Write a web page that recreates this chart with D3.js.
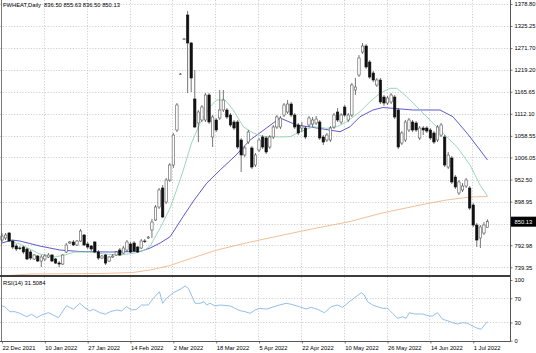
<!DOCTYPE html>
<html>
<head>
<meta charset="utf-8">
<script src="https://cdn.jsdelivr.net/npm/d3@7"></script>
<style>
  body { margin: 0; background: #fff; }
  svg { display: block; }
  text { font-family: "Liberation Sans", Arial, sans-serif; font-size: 5.8px; fill: #000; }
</style>
</head>
<body>
<script>
// symbol + last bar
const symbol = 'FWHEAT,Daily';
const lastBar = [836.50, 855.63, 836.50, 850.13];
const rsiLast = 31.5084;

// time axis labels, every 12 bars
const dateBars = [0, 12, 24, 36, 48, 60, 72, 84, 96, 108, 120, 132];
const dateLabels = ['22 Dec 2021', '10 Jan 2022', '27 Jan 2022', '14 Feb 2022', '2 Mar 2022', '18 Mar 2022',
  '5 Apr 2022', '22 Apr 2022', '10 May 2022', '26 May 2022', '14 Jun 2022', '1 Jul 2022'];

// price scale: grid levels, and the labels shown (845.40 is hidden by the price box)
const priceGrid = [1378.80, 1325.25, 1271.70, 1219.20, 1165.65, 1112.10, 1058.55, 1006.05, 952.50, 898.95, 845.40, 792.98, 739.35];
const priceLabels = [1378.80, 1325.25, 1271.70, 1219.20, 1165.65, 1112.10, 1058.55, 1006.05, 952.50, 898.95, 792.98, 739.35];
const rsiTicks = [100, 70, 30, 0];
const rsiLevels = [70, 30];

// daily OHLC
const openP = [805.6, 810.5, 822.6, 803.2, 791.0, 786.2, 788.6, 783.8, 776.5, 759.5,
  766.8, 754.6, 759.5, 764.3, 769.2, 759.5, 749.7, 747.3, 776.5, 798.3,
  800.8, 793.5, 803.2, 817.8, 795.9, 791.0, 800.8, 776.5, 761.9, 769.2,
  754.6, 764.3, 769.2, 781.3, 774.0, 781.3, 795.9, 798.3, 788.6, 786.2,
  803.2, 810.5, 829.9, 854.2, 885.8, 931.9, 897.9, 951.3, 987.8, 1072.8,
  1208.8, 1293.8, 1352.1, 1284.1, 1148.1, 1089.8, 1097.1, 1097.1, 1157.8, 1055.8,
  1097.1, 1101.9, 1121.4, 1121.4, 1109.2, 1092.2, 1092.2, 1048.5, 1012.1, 1043.6,
  1029.1, 987.8, 1024.2, 1055.8, 1053.4, 1031.5, 1055.8, 1080.1, 1080.1, 1109.2,
  1116.5, 1135.9, 1109.2, 1084.9, 1077.6, 1077.6, 1084.9, 1087.3, 1089.8, 1092.2,
  1055.8, 1048.5, 1048.5, 1080.1, 1116.5, 1092.2, 1128.6, 1097.1, 1109.2, 1169.9,
  1206.3, 1262.2, 1276.8, 1237.9, 1211.2, 1182.1, 1194.2, 1152.9, 1138.3, 1140.8,
  1152.9, 1121.4, 1041.2, 1048.5, 1072.8, 1092.2, 1089.8, 1053.4, 1077.6, 1077.6,
  1072.8, 1065.5, 1048.5, 1060.6, 1055.8, 982.9, 1004.8, 958.6, 919.8, 927.1,
  936.8, 931.9, 890.6, 842.0, 810.5, 822.6, 836.5];
const highP = [822.6, 822.6, 825.0, 805.6, 795.9, 791.0, 791.0, 786.2, 781.3, 771.6,
  769.2, 769.2, 771.6, 774.0, 771.6, 761.9, 754.6, 771.6, 798.3, 803.2,
  805.6, 805.6, 832.3, 820.2, 800.8, 793.5, 803.2, 781.3, 769.2, 771.6,
  766.8, 771.6, 778.9, 786.2, 791.0, 805.6, 800.8, 803.2, 791.0, 808.1,
  808.1, 815.3, 856.6, 890.6, 931.9, 939.2, 956.2, 992.6, 1065.5, 1138.3,
  1211.2, 1296.2, 1361.8, 1286.5, 1218.5, 1121.4, 1133.5, 1162.6, 1162.6, 1109.2,
  1101.9, 1169.9, 1169.9, 1126.2, 1114.1, 1097.1, 1097.1, 1053.4, 1033.9, 1072.8,
  1033.9, 1016.9, 1053.4, 1060.6, 1058.2, 1060.6, 1084.9, 1109.2, 1106.8, 1138.3,
  1145.6, 1140.8, 1114.1, 1089.8, 1092.2, 1082.5, 1106.8, 1104.4, 1106.8, 1097.1,
  1060.6, 1065.5, 1082.5, 1114.1, 1126.2, 1114.1, 1133.5, 1114.1, 1186.9, 1199.1,
  1254.9, 1284.1, 1281.6, 1242.8, 1216.1, 1199.1, 1199.1, 1157.8, 1155.3, 1162.6,
  1157.8, 1126.2, 1070.3, 1097.1, 1101.9, 1097.1, 1094.6, 1082.5, 1082.5, 1082.5,
  1077.6, 1070.3, 1084.9, 1089.8, 1060.6, 1019.4, 1009.6, 963.5, 951.3, 944.0,
  956.2, 936.8, 895.4, 846.9, 842.0, 849.3, 855.63];
const lowP = [800.8, 805.6, 800.8, 783.8, 778.9, 781.3, 771.6, 757.0, 757.0, 757.0,
  752.2, 740.0, 754.6, 761.9, 752.2, 747.3, 740.0, 744.9, 774.0, 795.9,
  791.0, 791.0, 800.8, 791.0, 783.8, 778.9, 774.0, 757.0, 759.5, 744.9,
  752.2, 761.9, 766.8, 766.8, 771.6, 776.5, 774.0, 776.5, 774.0, 783.8,
  798.3, 808.1, 810.5, 851.8, 881.0, 859.0, 893.1, 946.5, 980.5, 1067.9,
  1206.3, 1291.4, 1162.6, 1165.1, 1077.6, 1043.6, 1092.2, 1092.2, 1087.3, 1031.5,
  1067.9, 1097.1, 1116.5, 1099.5, 1080.1, 1072.8, 1026.6, 970.8, 1007.2, 1038.8,
  978.1, 982.9, 1019.4, 1026.6, 1014.5, 1026.6, 1050.9, 1075.2, 1075.2, 1104.4,
  1111.6, 1104.4, 1075.2, 1060.6, 1067.9, 1050.9, 1080.1, 1080.1, 1084.9, 1048.5,
  1036.3, 1043.6, 1043.6, 1075.2, 1092.2, 1087.3, 1104.4, 1092.2, 1104.4, 1157.8,
  1201.5, 1257.3, 1220.9, 1196.6, 1189.3, 1177.2, 1135.9, 1131.1, 1133.5, 1135.9,
  1099.5, 1026.6, 1036.3, 1043.6, 1067.9, 1067.9, 1067.9, 1048.5, 1060.6, 1065.5,
  1048.5, 1038.8, 1043.6, 1055.8, 982.9, 978.1, 941.6, 929.5, 914.9, 922.2,
  931.9, 878.5, 837.2, 788.6, 786.2, 817.8, 836.5];
const closeP = [815.3, 817.8, 803.2, 788.6, 783.8, 784.9, 776.5, 759.5, 761.9, 769.2,
  754.6, 764.3, 766.8, 769.2, 754.6, 749.7, 747.3, 769.2, 793.5, 800.8,
  793.5, 803.2, 827.5, 793.5, 788.6, 783.8, 776.5, 761.9, 766.8, 749.7,
  764.3, 766.8, 776.5, 769.2, 786.2, 800.8, 776.5, 778.9, 776.5, 803.2,
  802.0, 812.9, 849.3, 885.8, 927.1, 861.5, 951.3, 987.8, 1060.6, 1133.5,
  1208.8, 1293.8, 1284.1, 1199.1, 1080.1, 1116.5, 1128.6, 1157.8, 1092.2, 1104.4,
  1072.8, 1121.4, 1145.6, 1104.4, 1084.9, 1077.6, 1031.5, 1012.1, 1029.1, 1067.9,
  982.9, 1012.1, 1048.5, 1031.5, 1019.4, 1055.8, 1080.1, 1104.4, 1101.9, 1133.5,
  1135.9, 1109.2, 1080.1, 1065.5, 1082.5, 1055.8, 1101.9, 1097.1, 1099.5, 1053.4,
  1043.6, 1060.6, 1077.6, 1109.2, 1097.1, 1109.2, 1109.2, 1109.2, 1182.1, 1177.2,
  1247.6, 1276.8, 1225.8, 1201.5, 1194.2, 1194.2, 1140.8, 1138.3, 1150.5, 1157.8,
  1104.4, 1031.5, 1065.5, 1092.2, 1097.1, 1072.8, 1072.8, 1077.6, 1072.8, 1070.3,
  1053.4, 1043.6, 1080.1, 1084.9, 987.8, 1012.1, 946.5, 934.4, 946.5, 936.8,
  951.3, 883.3, 842.0, 805.6, 837.2, 842.0, 850.13];

// moving averages, [bar, value]
const maFast = [[1.7, 803.2], [5, 795.9], [10.6, 771.6], [14.8, 764.3], [17.6, 769.2], [20.4, 776.5],
  [24.6, 776.5], [28.9, 771.6], [33, 769.2], [37.3, 774.0], [40, 781.3], [41.5, 791.0], [44.3, 834.8],
  [47.1, 883.3], [48.9, 927.1], [50.8, 975.6], [53.1, 1041.2], [55.5, 1089.8], [58.3, 1129.4],
  [60.1, 1145.6], [62.5, 1145.6], [64.8, 1121.4], [67.6, 1080.8], [70.4, 1065.5], [73.2, 1056.5],
  [76, 1056.5], [77.9, 1055.8], [80.7, 1056.5], [83.5, 1068.6], [87.2, 1080.8], [91, 1076.9],
  [93.8, 1080.8], [96.6, 1092.9], [100.3, 1117.2], [103.1, 1141.5], [105.9, 1161.9], [108.7, 1174.0],
  [110.6, 1174.0], [113.4, 1153.6], [117.1, 1121.4], [120.8, 1089.0], [123.6, 1064.8], [127.4, 1032.2],
  [131.1, 987.8], [133.9, 939.2], [136, 912.5]];
const maMid = [[0, 798.3], [2.8, 805.6], [5, 803.2], [10.6, 791.0], [16.2, 781.3], [21.8, 777.7],
  [30.3, 776.5], [38.7, 777.7], [41.5, 786.2], [44.3, 798.3], [47.1, 813.6], [50.7, 862.2],
  [53.5, 898.6], [57.3, 943.3], [61.1, 975.6], [65.3, 1009.6], [69.5, 1048.5], [73.7, 1075.2],
  [77.9, 1102.0], [82.5, 1084.9], [88.2, 1077.6], [94.7, 1068.6], [97.5, 1080.8], [100.3, 1105.1],
  [103.9, 1121.4], [106.7, 1127.4], [109.5, 1125.5], [115.1, 1121.4], [122.7, 1121.4], [126.3, 1105.1],
  [130.3, 1064.8], [133.9, 1024.2], [136, 999.9]];
const maSlow = [[0, 718.2], [7.8, 723.0], [27.5, 724.3], [36.7, 726.7], [41.5, 732.8], [47.1, 743.7],
  [50.7, 754.6], [60.2, 781.3], [69.5, 800.7], [78.7, 817.7], [88.2, 834.8], [97.5, 850.5],
  [105.9, 870.0], [117.1, 890.6], [124.6, 902.8], [131.1, 910.0], [136, 911.3]];

// RSI(14), [bar, value]
const rsi14 = [[0, 57.2], [0.8, 56.0], [2.2, 47.8], [3.6, 47.8], [5, 45.1], [6.9, 39.5], [8.3, 43.5],
  [9.7, 37.9], [11.1, 42.3], [13, 46.1], [14.4, 42.3], [15.8, 37.9], [18.1, 57.7], [20, 51.7],
  [21.8, 61.6], [23.2, 54.4], [24.6, 48.9], [25.6, 51.7], [27.5, 46.1], [28.9, 43.5], [30.3, 47.8],
  [32.1, 50.6], [33.5, 48.9], [34.9, 56.0], [36.3, 50.6], [37.7, 51.7], [39.1, 58.8], [41, 58.8],
  [42.4, 69.9], [44.1, 80.7], [45, 61.6], [46.1, 69.9], [48, 79.1], [49.9, 84.7], [51.3, 90.1],
  [52.2, 86.3], [54.1, 61.6], [55.5, 61.6], [56.6, 64.3], [57.3, 58.8], [58.3, 61.6], [59.7, 57.2],
  [61.1, 58.8], [63.9, 57.2], [65.3, 53.4], [66.7, 49.4], [68.1, 47.8], [69.5, 45.1], [70.9, 50.6],
  [72.3, 53.4], [74, 52.0], [77.7, 58.8], [79.6, 61.6], [81, 60.0], [83.3, 56.0], [85.2, 52.2],
  [86.6, 54.9], [88.4, 51.7], [90.3, 46.1], [92.2, 56.0], [94, 58.8], [95.4, 54.9], [97.3, 64.3],
  [99.2, 72.5], [100.6, 79.1], [101.5, 75.3], [102.4, 64.3], [103.8, 58.8], [105.2, 56.0],
  [106.6, 53.4], [108, 53.4], [109.4, 45.1], [110.8, 36.9], [112.2, 39.5], [113.2, 36.9],
  [114.1, 46.1], [115.5, 44.0], [117.8, 44.0], [119.7, 40.7], [120.6, 40.7], [122, 46.1],
  [123.4, 35.3], [124.8, 32.9], [126.2, 29.7], [127.6, 27.5], [129, 29.7], [130.4, 28.7],
  [131.8, 24.2], [133.2, 20.4], [134.2, 18.8], [135.2, 26.0], [136, 31.5]];

const W = 536, H = 353;
const axisX = 510.5;
const mainTop = 0, mainBottom = 275;
const rsiTop = 277, rsiBottom = 341.5;
const fontFam = '"Liberation Sans", Arial, sans-serif';

const svg = d3.select('body').append('svg')
  .attr('width', W)
  .attr('height', H);

svg.append('rect').attr('width', W).attr('height', H).attr('fill', '#fff');

const xScale = d3.scaleLinear().domain([0, 136]).range([2, 487.5]);
const yScale = d3.scaleLinear().domain([739.35, 1378.80]).range([267.3, 4]);
const rScale = d3.scaleLinear().domain([0, 100]).range([340.7, 280]);

// clip regions for each panel
const defs = svg.append('defs');
defs.append('clipPath').attr('id', 'clipMain')
  .append('rect').attr('x', 0).attr('y', mainTop).attr('width', axisX).attr('height', mainBottom - mainTop);
defs.append('clipPath').attr('id', 'clipRsi')
  .append('rect').attr('x', 0).attr('y', rsiTop).attr('width', axisX).attr('height', rsiBottom - rsiTop);

const gridColor = '#c4c4c4';
const gridDash = '1.2,1.6';

// horizontal grid, main panel
svg.append('g').selectAll('line')
  .data(priceGrid)
  .join('line')
  .attr('x1', 0).attr('x2', axisX)
  .attr('y1', d => Math.round(yScale(d)) + 0.5)
  .attr('y2', d => Math.round(yScale(d)) + 0.5)
  .attr('stroke', gridColor).attr('stroke-width', 0.8).attr('stroke-dasharray', gridDash);

// horizontal grid, rsi panel
svg.append('g').selectAll('line')
  .data(rsiLevels)
  .join('line')
  .attr('x1', 0).attr('x2', axisX)
  .attr('y1', d => Math.round(rScale(d)) + 0.5)
  .attr('y2', d => Math.round(rScale(d)) + 0.5)
  .attr('stroke', gridColor).attr('stroke-width', 0.8).attr('stroke-dasharray', gridDash);

// vertical grid at the date labels (both panels)
[[mainTop, mainBottom], [rsiTop, rsiBottom]].forEach(([a, b]) => {
  svg.append('g').selectAll('line')
    .data(dateBars.slice(1))
    .join('line')
    .attr('x1', d => Math.round(xScale(d)) - 0.5)
    .attr('x2', d => Math.round(xScale(d)) - 0.5)
    .attr('y1', a).attr('y2', b)
    .attr('stroke', gridColor).attr('stroke-width', 0.8).attr('stroke-dasharray', gridDash);
});

// moving averages (under the candles)
const maLine = d3.line().x(d => xScale(d[0])).y(d => yScale(d[1]));
const maG = svg.append('g').attr('clip-path', 'url(#clipMain)');
maG.append('path').datum(maSlow).attr('d', maLine)
  .attr('fill', 'none').attr('stroke', '#f0b88c').attr('stroke-width', 0.9);
maG.append('path').datum(maMid).attr('d', maLine)
  .attr('fill', 'none').attr('stroke', '#4b46c8').attr('stroke-width', 0.9);
maG.append('path').datum(maFast).attr('d', maLine)
  .attr('fill', 'none').attr('stroke', '#8fd3b0').attr('stroke-width', 0.9);

// candles
const bars = d3.range(openP.length).map(i => ({
  i, o: openP[i], h: highP[i], l: lowP[i], c: closeP[i]
}));
const bodyW = 2.4;
const candleG = svg.append('g').attr('clip-path', 'url(#clipMain)');
candleG.selectAll('line.wick')
  .data(bars)
  .join('line')
  .attr('class', 'wick')
  .attr('x1', d => xScale(d.i)).attr('x2', d => xScale(d.i))
  .attr('y1', d => yScale(d.h)).attr('y2', d => yScale(d.l))
  .attr('stroke', '#3a3a3a').attr('stroke-width', 0.7);
candleG.selectAll('rect.body')
  .data(bars)
  .join('rect')
  .attr('class', 'body')
  .attr('x', d => xScale(d.i) - bodyW / 2)
  .attr('width', bodyW)
  .attr('y', d => yScale(Math.max(d.o, d.c)))
  .attr('height', d => Math.max(0.6, Math.abs(yScale(d.o) - yScale(d.c))))
  .attr('fill', d => d.c >= d.o ? '#fff' : '#111')
  .attr('stroke', d => d.c >= d.o ? '#555' : '#111')
  .attr('stroke-width', 0.6);

// rsi line
const rsiLine = d3.line().x(d => xScale(d[0])).y(d => rScale(d[1]));
svg.append('g').attr('clip-path', 'url(#clipRsi)')
  .append('path').datum(rsi14).attr('d', rsiLine)
  .attr('fill', 'none').attr('stroke', '#86b8e8').attr('stroke-width', 0.9);

// frame: left edge, panel separator, bottom, price axis line
svg.append('line').attr('x1', 1.5).attr('x2', 1.5).attr('y1', 0).attr('y2', rsiBottom)
  .attr('stroke', '#555').attr('stroke-width', 0.8);
svg.append('rect').attr('x', 0).attr('y', mainBottom).attr('width', axisX).attr('height', 2)
  .attr('fill', '#3c3c3c');
svg.append('line').attr('x1', 0).attr('x2', axisX).attr('y1', rsiBottom).attr('y2', rsiBottom)
  .attr('stroke', '#444').attr('stroke-width', 0.9);
svg.append('line').attr('x1', axisX).attr('x2', axisX).attr('y1', 0).attr('y2', rsiBottom)
  .attr('stroke', '#444').attr('stroke-width', 0.9);

const styleAxis = g => {
  g.select('.domain').remove();
  g.selectAll('line').attr('stroke', '#444').attr('stroke-width', 0.7);
  g.selectAll('text').attr('font-size', 5.8).attr('font-family', fontFam).attr('fill', '#222');
};

// price axis
const yAxis = d3.axisRight(yScale)
  .tickValues(priceLabels)
  .tickFormat(d3.format('.2f'))
  .tickSize(2)
  .tickPadding(2);
svg.append('g').attr('transform', `translate(${axisX},0)`).call(yAxis).call(styleAxis);

// rsi axis
const rAxis = d3.axisRight(rScale)
  .tickValues(rsiTicks)
  .tickFormat(d3.format('d'))
  .tickSize(2)
  .tickPadding(2);
svg.append('g').attr('transform', `translate(${axisX},0)`).call(rAxis).call(styleAxis);

// time axis
const xAxis = d3.axisBottom(xScale)
  .tickValues(dateBars)
  .tickFormat((d, k) => dateLabels[k])
  .tickSize(2)
  .tickPadding(2);
const xAxisG = svg.append('g').attr('transform', `translate(0,${rsiBottom})`).call(xAxis).call(styleAxis);
xAxisG.selectAll('text').attr('text-anchor', 'start').attr('x', 0);

// current price box
const lastC = lastBar[3];
svg.append('rect')
  .attr('x', axisX + 0.5).attr('y', yScale(lastC) - 5)
  .attr('width', W - axisX).attr('height', 10)
  .attr('fill', '#000');
svg.append('text')
  .attr('x', axisX + 4).attr('y', yScale(lastC) + 2)
  .style('fill', '#fff')
  .text(d3.format('.2f')(lastC));

// headers
svg.append('text').attr('x', 3).attr('y', 7)
  .style('white-space', 'pre')
  .text(`${symbol}  ${lastBar.map(d3.format('.2f')).join(' ')}`);
svg.append('text').attr('x', 3).attr('y', 284.5)
  .text(`RSI(14) ${rsiLast}`);
</script>
</body>
</html>
